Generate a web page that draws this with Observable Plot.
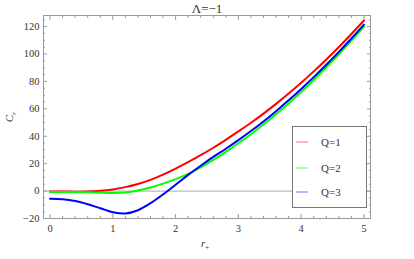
<!DOCTYPE html>
<html><head><meta charset="utf-8">
<script src="https://cdn.jsdelivr.net/npm/d3@7"></script>
<script src="https://cdn.jsdelivr.net/npm/@observablehq/plot@0.6"></script>
<style>
body{margin:0;background:#fff;}
#wrap{position:relative;width:414px;height:259px;font-family:"Liberation Serif","DejaVu Serif",serif;color:#333;overflow:hidden;}
#wrap svg{position:absolute;left:0;top:0;}
#wrap svg text{font-family:"Liberation Serif","DejaVu Serif",serif;}
.abs{position:absolute;white-space:nowrap;line-height:1;}
#legend{position:absolute;left:292px;top:126px;width:73px;height:80px;border:1px solid #777;background:#fff;}
.item{position:absolute;left:0;width:73px;height:14px;}
.item .sw{position:absolute;left:3px;top:6px;width:12px;height:1.5px;}
.item .lb{position:absolute;left:28px;top:0;font-size:11px;line-height:14px;color:#333;}
</style></head><body><div id="wrap"></div>
<script>
const rValues = [0,0.2,0.4,0.6,0.8,1.0,1.2,1.4,1.6,1.8,2.0,2.2,2.4,2.6,2.8,3.0,3.2,3.4,3.6,3.8,4.0,4.2,4.4,4.6,4.8,5.0];
const cQ1 = [-0.3,-0.3,-0.4,-0.3,0.2,1.2,2.9,5.2,8.2,12.0,16.4,21.2,26.2,31.6,37.4,43.5,49.8,56.5,63.6,71.1,79.0,87.3,96.0,105.1,114.6,124.4];
const cQ2 = [-0.6,-0.6,-0.7,-0.9,-1.2,-1.4,-1.0,0.4,2.6,5.4,8.7,12.5,17.3,22.7,28.6,34.9,41.5,48.5,56.0,63.9,72.2,81.0,90.2,99.8,109.7,120.0];
const cQ3 = [-5.6,-6.0,-7.3,-9.6,-12.5,-15.4,-16.4,-14.0,-8.8,-2.4,4.6,11.8,18.5,24.9,30.9,37.2,43.8,50.8,58.3,66.2,74.5,83.1,92.1,101.5,111.3,121.4];
const seriesNames = ["Q=1","Q=2","Q=3"];
const seriesColors = ["#ff0000","#00ff00","#0000ff"];
const legendColors = ["#ffb8b8","#a8ffa8","#b8b8ff"];
const xMajor = [0,1,2,3,4,5];
const xMinor = [0.2,0.4,0.6,0.8,1.2,1.4,1.6,1.8,2.2,2.4,2.6,2.8,3.2,3.4,3.6,3.8,4.2,4.4,4.6,4.8];
const yMajor = [-20,0,20,40,60,80,100,120];
const yMinor = [-15,-10,-5,5,10,15,25,30,35,45,50,55,65,70,75,85,90,95,105,110,115,125];
const titleText = "Λ=−1";

const allSeries = [cQ1, cQ2, cQ3];
const rows = allSeries.flatMap((vals, i) => vals.map((v, j) => ({r: rValues[j], c: v, s: seriesNames[i]})));

const tickColor = "#999";
const serif = "'Liberation Serif', 'DejaVu Serif', serif";
const lineMarks = seriesNames.map((name, i) =>
  Plot.line(rows.filter(d => d.s === name), {x: "r", y: "c", stroke: seriesColors[i], strokeWidth: 2, curve: "catmull-rom"}));

const chart = Plot.plot({
  width: 414, height: 259,
  marginLeft: 43, marginRight: 44, marginTop: 15, marginBottom: 41,
  style: {fontFamily: serif, background: "transparent", color: "#333"},
  x: {domain: [-0.104, 5.104]},
  y: {domain: [-20, 128.06]},
  marks: [
    Plot.ruleY([0], {stroke: "#aaa", strokeWidth: 1}),
    ...lineMarks,
    Plot.axisX(xMajor, {anchor: "bottom", tickSize: -4, fill: "none", stroke: tickColor, label: null}),
    Plot.axisX(xMinor, {anchor: "bottom", tickSize: -2, fill: "none", stroke: tickColor, label: null}),
    Plot.axisX(xMajor, {anchor: "top", tickSize: -4, fill: "none", stroke: tickColor, label: null}),
    Plot.axisX(xMinor, {anchor: "top", tickSize: -2, fill: "none", stroke: tickColor, label: null}),
    Plot.axisY(yMajor, {anchor: "left", tickSize: -4, fill: "none", stroke: tickColor, label: null}),
    Plot.axisY(yMinor, {anchor: "left", tickSize: -2, fill: "none", stroke: tickColor, label: null}),
    Plot.axisY(yMajor, {anchor: "right", tickSize: -4, fill: "none", stroke: tickColor, label: null}),
    Plot.axisY(yMinor, {anchor: "right", tickSize: -2, fill: "none", stroke: tickColor, label: null}),
    Plot.axisX(xMajor, {anchor: "bottom", tickSize: 0, tickPadding: 6, fontSize: 10.5, fill: "#333", label: null}),
    Plot.axisY(yMajor, {anchor: "left", tickSize: 0, tickPadding: 4, fontSize: 10.5, fill: "#333", label: null}),
    Plot.frame({stroke: tickColor})
  ]
});

const wrap = document.getElementById("wrap");
wrap.appendChild(chart);

function addText(html, css) {
  const d = document.createElement("div");
  d.className = "abs";
  d.innerHTML = html;
  Object.assign(d.style, css);
  wrap.appendChild(d);
  return d;
}
addText(titleText, {left: "0px", width: "414px", textAlign: "center", top: "2px", fontSize: "13px"});
addText('<i>C</i><sub style="font-size:7px;font-style:italic">r</sub>', {left: "6px", top: "110px", fontSize: "11px", transform: "rotate(-90deg)", transformOrigin: "center"});
addText('<i>r</i><sub style="font-size:7px">+</sub>', {left: "201px", top: "238px", fontSize: "11px"});

const legend = document.createElement("div");
legend.id = "legend";
const yOffsets = [8, 34, 58];
seriesNames.forEach((name, i) => {
  const it = document.createElement("div");
  it.className = "item";
  it.style.top = yOffsets[i] + "px";
  it.innerHTML = `<div class="sw" style="background:${legendColors[i]}"></div><div class="lb">${name}</div>`;
  legend.appendChild(it);
});
wrap.appendChild(legend);
</script>
</body></html>
